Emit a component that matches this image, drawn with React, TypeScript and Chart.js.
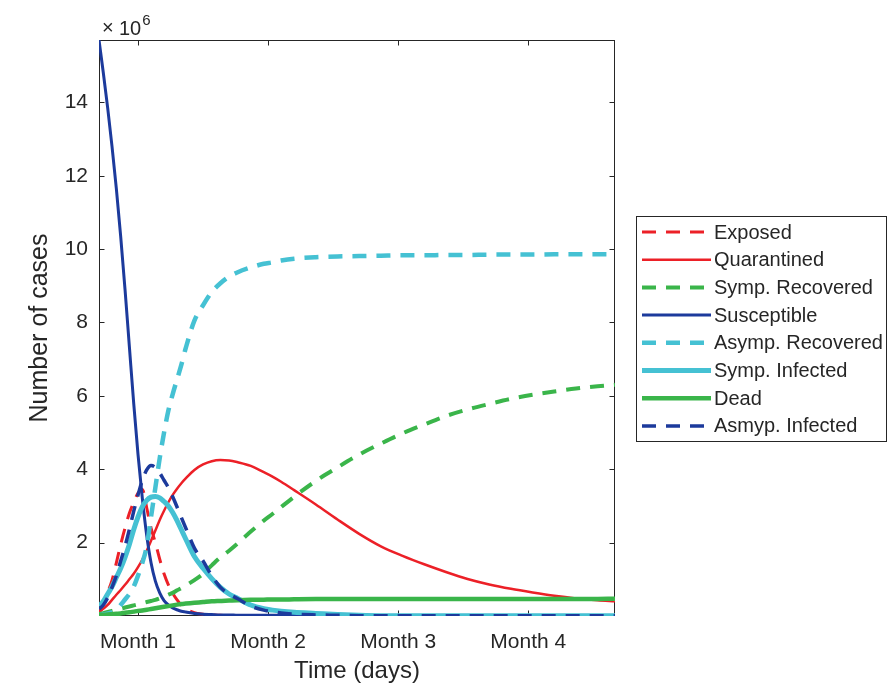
import React, { useEffect, useRef } from "react";
import { Chart, registerables } from "chart.js";

Chart.register(...registerables);

// ---- data (values in millions of cases) ----
const DAYS = [0, 1, 2, 3, 4, 5, 6, 7, 8, 9, 10, 11, 12, 13, 14, 15, 16, 17, 18, 19, 20, 22, 24, 26, 28, 30, 32, 35, 38, 40, 42, 45, 50, 55, 60, 65, 70, 75, 80, 85, 90, 95, 100, 105, 110, 115, 119];

const EXPOSED = [0.15, 0.35, 0.65, 0.97, 1.45, 1.95, 2.4, 2.8, 3.1, 3.35, 3.45, 2.95, 2.4, 2.0, 1.55, 1.15, 0.85, 0.62, 0.44, 0.3, 0.2,
  0.09, 0.05, 0.03, 0.02, 0.01, 0.01,
  0.01, 0.01, 0.01, 0.01, 0.01,
  0.01, 0.01, 0.01, 0.01, 0.01, 0.01, 0.01, 0.01, 0.01, 0.01, 0.01, 0.01, 0.01, 0.01, 0.01];

const QUARANTINED = [0.1, 0.2, 0.3, 0.44, 0.58, 0.71, 0.85, 1.0, 1.15, 1.33, 1.54, 1.78, 2.05, 2.33, 2.62, 2.87, 3.1, 3.3, 3.47, 3.62, 3.75,
  3.98, 4.13, 4.22, 4.25, 4.24, 4.19,
  4.09, 3.92, 3.8, 3.66, 3.43,
  3.04, 2.63, 2.24, 1.9, 1.64, 1.41, 1.2, 1.01, 0.86, 0.74, 0.64, 0.55, 0.48, 0.43, 0.4];

const SYMP_RECOVERED = [0.05, 0.08, 0.11, 0.14, 0.17, 0.2, 0.23, 0.26, 0.29, 0.32, 0.35, 0.38, 0.41, 0.44, 0.48, 0.53, 0.58, 0.63, 0.7, 0.76, 0.83,
  0.98, 1.15, 1.38, 1.6, 1.78, 1.98,
  2.3, 2.6, 2.78, 2.97, 3.25,
  3.68, 4.05, 4.4, 4.7, 4.98, 5.22, 5.45, 5.63, 5.78, 5.92, 6.03, 6.12, 6.2, 6.26, 6.3];

const SUSCEPTIBLE = [15.7, 14.8, 13.85, 12.8, 11.65, 10.35, 8.9, 7.35, 5.8, 4.4, 3.2, 2.2, 1.45, 0.95, 0.63, 0.42, 0.3, 0.22, 0.17, 0.13, 0.11,
  0.07, 0.05, 0.04, 0.03, 0.03, 0.02,
  0.02, 0.02, 0.02, 0.02, 0.02,
  0.01, 0.01, 0.01, 0.01, 0.01, 0.01, 0.01, 0.01, 0.01, 0.01, 0.01, 0.01, 0.01, 0.01, 0.01];

const ASYMP_RECOVERED = [0.02, 0.04, 0.07, 0.1, 0.17, 0.3, 0.45, 0.6, 0.8, 1.1, 1.45, 1.9, 2.7, 3.5, 4.3, 5.0, 5.6, 6.05, 6.45, 6.85, 7.3,
  8.05, 8.47, 8.83, 9.07, 9.25, 9.37,
  9.5, 9.6, 9.64, 9.69, 9.74,
  9.78, 9.8, 9.81, 9.82, 9.83, 9.83, 9.84, 9.84, 9.85, 9.85, 9.85, 9.86, 9.86, 9.86, 9.86];

const SYMP_INFECTED = [0.27, 0.4, 0.6, 0.8, 1.05, 1.3, 1.6, 1.95, 2.35, 2.7, 2.98, 3.15, 3.24, 3.26, 3.22, 3.12, 3.0, 2.82, 2.6, 2.35, 2.1,
  1.62, 1.3, 1.02, 0.78, 0.6, 0.48,
  0.3, 0.2, 0.16, 0.13, 0.1,
  0.07, 0.04, 0.02, 0.01, 0.01, 0.01, 0.01, 0.01, 0.01, 0.01, 0.01, 0.01, 0.01, 0.01, 0.01];

const DEAD = [0.02, 0.03, 0.04, 0.05, 0.06, 0.07, 0.09, 0.1, 0.12, 0.14, 0.15, 0.17, 0.19, 0.21, 0.23, 0.25, 0.27, 0.29, 0.31, 0.33, 0.34,
  0.36, 0.38, 0.4, 0.41, 0.42, 0.43,
  0.44, 0.445, 0.45, 0.45, 0.455,
  0.46, 0.46, 0.46, 0.46, 0.46, 0.46, 0.46, 0.46, 0.46, 0.46, 0.46, 0.46, 0.46, 0.465, 0.47];

const ASYMP_INFECTED = [0.19, 0.3, 0.5, 0.78, 1.1, 1.5, 1.9, 2.36, 2.85, 3.3, 3.7, 3.98, 4.1, 4.05, 3.9, 3.7, 3.5, 3.25, 2.97, 2.68, 2.4,
  1.85, 1.5, 1.1, 0.78, 0.6, 0.47,
  0.27, 0.16, 0.12, 0.08, 0.05,
  0.03, 0.02, 0.01, 0.01, 0.01, 0.01, 0.01, 0.01, 0.01, 0.01, 0.01, 0.01, 0.01, 0.01, 0.01];

const SERIES_LABELS = ["Exposed", "Quarantined", "Symp. Recovered", "Susceptible", "Asymp. Recovered", "Symp. Infected", "Dead", "Asmyp. Infected"];

const MONTH_TICK_DAYS = [9, 39, 69, 99];
const MONTH_LABELS = ["Month 1", "Month 2", "Month 3", "Month 4"];
const Y_TICKS = [2, 4, 6, 8, 10, 12, 14];
const X_MAX = 119;
const Y_MAX = 15.7;

// ---- styles ----
const FONT = "'Liberation Sans', Arial, Helvetica, sans-serif";
const INK = "#262626";
const RED = "#ec2027";
const GREEN = "#3ab54a";
const NAVY = "#1c3a9c";
const CYAN = "#45c1d3";

const STYLES = [
  { color: RED, width: 3, dash: [14, 10] },
  { color: RED, width: 2.5, dash: [] },
  { color: GREEN, width: 4, dash: [14, 10] },
  { color: NAVY, width: 3, dash: [] },
  { color: CYAN, width: 4.5, dash: [14, 10] },
  { color: CYAN, width: 5, dash: [] },
  { color: GREEN, width: 4.5, dash: [] },
  { color: NAVY, width: 3.5, dash: [14, 10] },
];

const SERIES = [EXPOSED, QUARANTINED, SYMP_RECOVERED, SUSCEPTIBLE, ASYMP_RECOVERED, SYMP_INFECTED, DEAD, ASYMP_INFECTED];

const framePlugin = {
  id: "matlabFrame",
  beforeDatasetsDraw(chart: any) {
    const { ctx, chartArea: a, scales } = chart;
    const l = Math.round(a.left) + 0.5;
    const r = Math.round(a.right) - 0.5;
    const t = Math.round(a.top) + 0.5;
    const b = Math.round(a.bottom) - 0.5;
    ctx.save();
    ctx.strokeStyle = INK;
    ctx.lineWidth = 1;
    ctx.setLineDash([]);
    ctx.strokeRect(l, t, r - l, b - t);
    const tl = 5;
    ctx.beginPath();
    scales.x.ticks.forEach((tk: any) => {
      const px = Math.round(scales.x.getPixelForValue(tk.value)) + 0.5;
      ctx.moveTo(px, b); ctx.lineTo(px, b - tl);
      ctx.moveTo(px, t); ctx.lineTo(px, t + tl);
    });
    scales.y.ticks.forEach((tk: any) => {
      const py = Math.round(scales.y.getPixelForValue(tk.value)) + 0.5;
      ctx.moveTo(l, py); ctx.lineTo(l + tl, py);
      ctx.moveTo(r, py); ctx.lineTo(r - tl, py);
    });
    ctx.stroke();
    ctx.restore();
  },
  afterDraw(chart: any) {
    const { ctx, chartArea: a } = chart;
    ctx.save();
    ctx.fillStyle = INK;
    ctx.textAlign = "left";
    ctx.textBaseline = "alphabetic";
    ctx.font = `20px ${FONT}`;
    ctx.fillText("\u00d7", a.left + 3, a.top - 6);
    ctx.fillText("10", a.left + 20, a.top - 5);
    const w = ctx.measureText("10").width;
    ctx.font = `15px ${FONT}`;
    ctx.fillText("6", a.left + 21 + w, a.top - 15);
    ctx.restore();
  },
};

const legendPlugin = {
  id: "boxedLegend",
  afterDraw(chart: any) {
    const ctx = chart.ctx;
    const ds = chart.data.datasets;
    const left = 636, top = 216, right = 886, bottom = 441;
    ctx.save();
    ctx.fillStyle = "#ffffff";
    ctx.fillRect(left, top, right - left, bottom - top);
    ctx.strokeStyle = INK;
    ctx.lineWidth = 1;
    ctx.setLineDash([]);
    ctx.strokeRect(left + 0.5, top + 0.5, right - left, bottom - top);
    const rowH = 27.7;
    const y0 = 232;
    ds.forEach((d: any, i: number) => {
      const y = y0 + i * rowH;
      ctx.beginPath();
      ctx.setLineDash(d.borderDash || []);
      ctx.strokeStyle = d.borderColor;
      ctx.lineWidth = d.borderWidth;
      ctx.lineCap = "butt";
      ctx.moveTo(642, y);
      ctx.lineTo(711, y);
      ctx.stroke();
      ctx.setLineDash([]);
      ctx.fillStyle = INK;
      ctx.font = `20px ${FONT}`;
      ctx.textBaseline = "middle";
      ctx.textAlign = "left";
      ctx.fillText(d.label, 714, y + 1);
    });
    ctx.restore();
  },
};

export default function App() {
  const ref = useRef<HTMLCanvasElement | null>(null);

  useEffect(() => {
    if (!ref.current) return;
    const datasets = SERIES.map((vals, i) => ({
      label: SERIES_LABELS[i],
      data: DAYS.map((d, j) => ({ x: d, y: vals[j] })),
      borderColor: STYLES[i].color,
      backgroundColor: STYLES[i].color,
      borderWidth: STYLES[i].width,
      borderDash: STYLES[i].dash,
      pointRadius: 0,
      fill: false,
      cubicInterpolationMode: "monotone" as const,
      order: SERIES.length - 1 - i,
    }));

    const chart = new Chart(ref.current, {
      type: "line",
      data: { datasets },
      options: {
        responsive: false,
        animation: false,
        events: [],
        layout: { padding: { top: 40, right: 273, left: 0, bottom: 0 } },
        plugins: { legend: { display: false }, tooltip: { enabled: false } },
        scales: {
          x: {
            type: "linear",
            min: 0,
            max: X_MAX,
            grid: { display: false, drawTicks: false },
            border: { display: false },
            afterBuildTicks: (s: any) => {
              s.ticks = MONTH_TICK_DAYS.map((v) => ({ value: v }));
            },
            ticks: {
              autoSkip: false,
              maxRotation: 0,
              padding: 14,
              color: INK,
              font: { family: FONT, size: 21 },
              callback: (_v: any, idx: number) => MONTH_LABELS[idx],
            },
            title: {
              display: true,
              text: "Time (days)",
              color: INK,
              font: { family: FONT, size: 24 },
              padding: { top: 0, bottom: 2 },
            },
            afterFit: (s: any) => {
              s.height = 72;
            },
          },
          y: {
            type: "linear",
            min: 0,
            max: Y_MAX,
            grid: { display: false, drawTicks: false },
            border: { display: false },
            afterBuildTicks: (s: any) => {
              s.ticks = Y_TICKS.map((v) => ({ value: v }));
            },
            ticks: {
              padding: 11,
              color: INK,
              font: { family: FONT, size: 21 },
              callback: (v: any) => String(v),
            },
            title: {
              display: true,
              text: "Number of cases",
              color: INK,
              font: { family: FONT, size: 25 },
              padding: { top: 25, bottom: 0 },
            },
            afterFit: (s: any) => {
              s.width = 99;
            },
          },
        },
      },
      plugins: [framePlugin, legendPlugin],
    });
    return () => chart.destroy();
  }, []);

  return (
    <div style={{ position: "fixed", left: 0, top: 0, width: 888, height: 688, background: "#fff" }}>
      <canvas ref={ref} width={888} height={688} style={{ width: 888, height: 688, display: "block" }} />
    </div>
  );
}
